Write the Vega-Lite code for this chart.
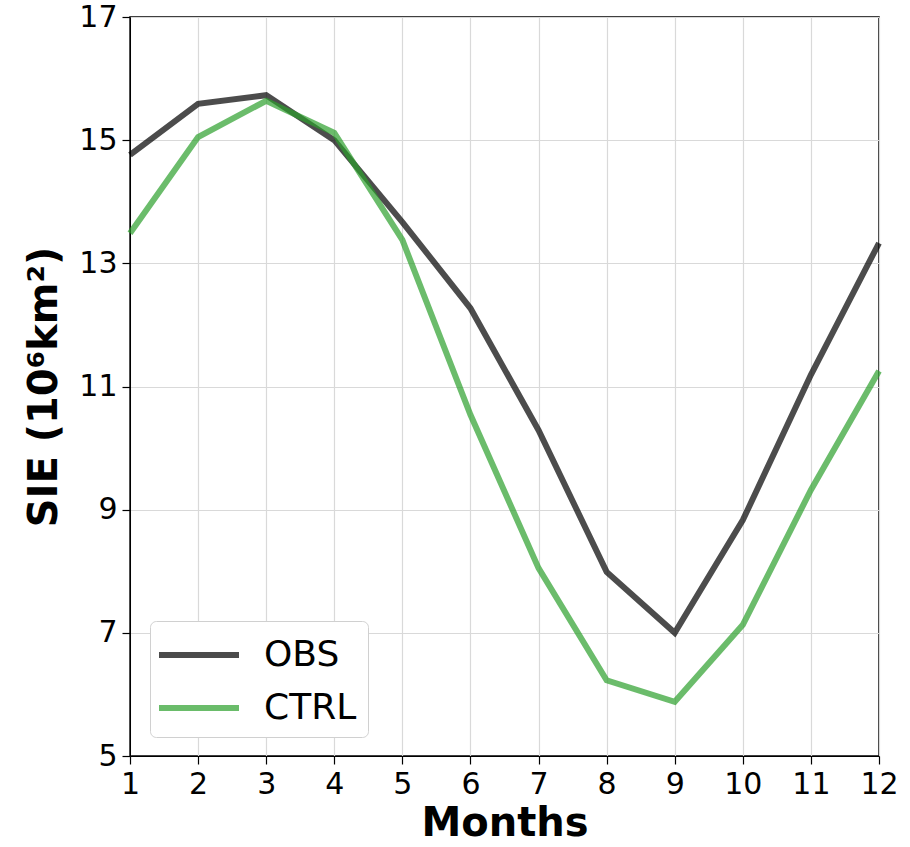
{
  "$schema": "https://vega.github.io/schema/vega-lite/v6.json",
  "autosize": "none",
  "width": 749,
  "height": 739,
  "padding": {"left": 130, "top": 17, "right": 31, "bottom": 91},
  "background": "white",
  "config": {
    "font": "DejaVu Sans",
    "view": {"stroke": "black", "strokeWidth": 1.5},
    "axis": {"gridColor": "#d9d9d9", "gridWidth": 1.2, "domainColor": "black", "tickColor": "black", "tickSize": 8, "tickWidth": 1.2, "labelFont": "DejaVu Sans", "labelFontSize": 30, "labelColor": "black", "titleFont": "DejaVu Sans", "titleFontSize": 40, "titleFontWeight": "bold", "titleColor": "black", "labelPadding": 5, "labelFlush": false}
  },
  "data": {"values": [
    {"month": 1, "series": "OBS", "sie": 14.76},
    {"month": 2, "series": "OBS", "sie": 15.59},
    {"month": 3, "series": "OBS", "sie": 15.73},
    {"month": 4, "series": "OBS", "sie": 15.0},
    {"month": 5, "series": "OBS", "sie": 13.67},
    {"month": 6, "series": "OBS", "sie": 12.27},
    {"month": 7, "series": "OBS", "sie": 10.29},
    {"month": 8, "series": "OBS", "sie": 7.99},
    {"month": 9, "series": "OBS", "sie": 7.0},
    {"month": 10, "series": "OBS", "sie": 8.83},
    {"month": 11, "series": "OBS", "sie": 11.19},
    {"month": 12, "series": "OBS", "sie": 13.33},
    {"month": 1, "series": "CTRL", "sie": 13.49},
    {"month": 2, "series": "CTRL", "sie": 15.05},
    {"month": 3, "series": "CTRL", "sie": 15.64},
    {"month": 4, "series": "CTRL", "sie": 15.12},
    {"month": 5, "series": "CTRL", "sie": 13.38},
    {"month": 6, "series": "CTRL", "sie": 10.54},
    {"month": 7, "series": "CTRL", "sie": 8.05},
    {"month": 8, "series": "CTRL", "sie": 6.23},
    {"month": 9, "series": "CTRL", "sie": 5.88},
    {"month": 10, "series": "CTRL", "sie": 7.13},
    {"month": 11, "series": "CTRL", "sie": 9.32},
    {"month": 12, "series": "CTRL", "sie": 11.25}
  ]},
  "mark": {"type": "line", "strokeWidth": 6, "opacity": 0.7, "strokeJoin": "miter"},
  "encoding": {
    "x": {"field": "month", "type": "quantitative", "title": "Months",
      "scale": {"domain": [1, 12], "nice": false, "zero": false},
      "axis": {"values": [1,2,3,4,5,6,7,8,9,10,11,12], "format": "d", "titlePadding": 4}},
    "y": {"field": "sie", "type": "quantitative", "title": "SIE (10⁶km²)",
      "scale": {"domain": [5, 17], "nice": false, "zero": false},
      "axis": {"values": [5,7,9,11,13,15,17], "titlePadding": 14}},
    "color": {"field": "series", "type": "nominal", "sort": ["OBS", "CTRL"],
      "scale": {"domain": ["OBS", "CTRL"], "range": ["#000000", "#2ca02c"]},
      "legend": {"title": null, "orient": "none", "legendX": 20, "legendY": 604,
        "symbolType": "M-2,0H2", "symbolSize": 1600, "symbolStrokeWidth": 6, "symbolOpacity": 0.7, "symbolOffset": 15,
        "labelFontSize": 36, "labelFont": "DejaVu Sans", "labelColor": "black", "labelOffset": 42,
        "rowPadding": 12, "padding": 11, "strokeColor": "#d0d0d0", "fillColor": "white", "cornerRadius": 6}}
  }
}
